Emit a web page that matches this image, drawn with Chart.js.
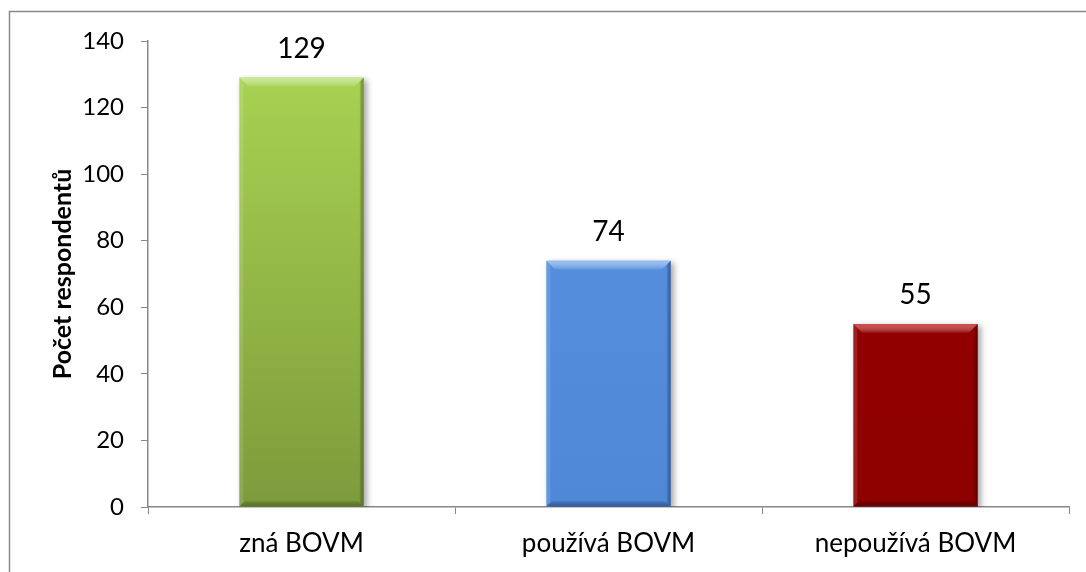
<!DOCTYPE html>
<html>
<head>
<meta charset="utf-8">
<script src="https://cdn.jsdelivr.net/npm/chart.js@4/dist/chart.umd.min.js"></script>
<style>
  html, body { margin: 0; padding: 0; background: #ffffff; }
  #wrap { position: relative; width: 1086px; height: 572px; }
</style>
</head>
<body>
<div id="wrap"><canvas id="c" width="1086" height="572"></canvas></div>
<script>
// Respondent counts per category
const categories = ['zná BOVM', 'používá BOVM', 'nepoužívá BOVM'];
const respondents = [129, 74, 55];
const yTicks = [0, 20, 40, 60, 80, 100, 120, 140];
const axisTitle = 'Počet respondentů';

// Bar palette: top and bottom of the fill, light and dark bevel tones
const barTop = ['#abd653', '#5892e0', '#980000'];
const barBottom = ['#7d9b3b', '#4f88d6', '#8e0000'];
const bevelLight = ['rgba(215,240,170,0.75)', 'rgba(170,205,250,0.8)', 'rgba(225,90,90,0.8)'];
const bevelDark = ['rgba(70,90,30,0.55)', 'rgba(30,60,120,0.55)', 'rgba(70,0,0,0.55)'];

const FONT = 'Lato, "Open Sans", sans-serif';
const AXIS_GREY = '#878787';

// Outer frame line (top and left edges)
const framePlugin = {
  id: 'frame',
  beforeDraw(chart) {
    const ctx = chart.ctx;
    ctx.save();
    ctx.strokeStyle = '#8a8a8a';
    ctx.lineWidth = 1.5;
    ctx.beginPath();
    ctx.moveTo(9.5, 600);
    ctx.lineTo(9.5, 11.5);
    ctx.lineTo(1100, 11.5);
    ctx.stroke();
    ctx.restore();
  }
};

// Soft drop shadow under the bars
const shadowPlugin = {
  id: 'barShadow',
  beforeDatasetsDraw(chart) {
    const ctx = chart.ctx;
    ctx.save();
    ctx.shadowColor = 'rgba(0,0,0,0.35)';
    ctx.shadowBlur = 6;
    ctx.shadowOffsetX = 3;
    ctx.shadowOffsetY = 2;
  },
  afterDatasetsDraw(chart) {
    chart.ctx.restore();
  }
};

// Bevel edges on each bar plus the value above it
const bevelPlugin = {
  id: 'bevel',
  afterDatasetsDraw(chart) {
    const ctx = chart.ctx;
    const meta = chart.getDatasetMeta(0);
    meta.data.forEach((bar, i) => {
      const p = bar.getProps(['x', 'y', 'base', 'width'], true);
      const l = p.x - p.width / 2, r = p.x + p.width / 2;
      const t = p.y, b = p.base;
      const d = 9, s = 4;
      ctx.save();
      // top bevel
      const gTop = ctx.createLinearGradient(0, t, 0, t + d);
      gTop.addColorStop(0, bevelLight[i]);
      gTop.addColorStop(1, 'rgba(255,255,255,0.05)');
      ctx.fillStyle = gTop;
      ctx.beginPath();
      ctx.moveTo(l, t); ctx.lineTo(r, t); ctx.lineTo(r - d, t + d); ctx.lineTo(l + d, t + d);
      ctx.closePath(); ctx.fill();
      // left edge
      ctx.fillStyle = 'rgba(255,255,255,0.12)';
      ctx.beginPath();
      ctx.moveTo(l, t); ctx.lineTo(l + s, t + s); ctx.lineTo(l + s, b - s); ctx.lineTo(l, b);
      ctx.closePath(); ctx.fill();
      // right edge
      const gR = ctx.createLinearGradient(r - s, 0, r, 0);
      gR.addColorStop(0, 'rgba(0,0,0,0.05)');
      gR.addColorStop(1, bevelDark[i]);
      ctx.fillStyle = gR;
      ctx.beginPath();
      ctx.moveTo(r, t); ctx.lineTo(r, b); ctx.lineTo(r - s, b - s); ctx.lineTo(r - s, t + s);
      ctx.closePath(); ctx.fill();
      // bottom edge
      const gB = ctx.createLinearGradient(0, b - 6, 0, b);
      gB.addColorStop(0, 'rgba(0,0,0,0.02)');
      gB.addColorStop(1, bevelDark[i]);
      ctx.fillStyle = gB;
      ctx.beginPath();
      ctx.moveTo(l, b); ctx.lineTo(r, b); ctx.lineTo(r - 6, b - 6); ctx.lineTo(l + 6, b - 6);
      ctx.closePath(); ctx.fill();
      ctx.restore();

      // value label
      ctx.save();
      ctx.fillStyle = '#000000';
      ctx.font = '28px ' + FONT;
      ctx.textAlign = 'center';
      ctx.textBaseline = 'alphabetic';
      ctx.fillText(String(respondents[i]), p.x, t - 20);
      ctx.restore();
    });
  }
};

new Chart(document.getElementById('c'), {
  type: 'bar',
  data: {
    labels: categories,
    datasets: [{
      data: respondents,
      backgroundColor(ctx) {
        const chart = ctx.chart;
        const area = chart.chartArea;
        if (!area) return barTop[ctx.dataIndex];
        const el = ctx.element;
        const y0 = el && isFinite(el.y) ? el.y : area.top;
        const y1 = el && isFinite(el.base) ? el.base : area.bottom;
        const g = chart.ctx.createLinearGradient(0, y0, 0, y1);
        g.addColorStop(0, barTop[ctx.dataIndex]);
        g.addColorStop(1, barBottom[ctx.dataIndex]);
        return g;
      },
      borderWidth: 0,
      barPercentage: 0.405,
      categoryPercentage: 1.0
    }]
  },
  options: {
    responsive: false,
    animation: false,
    layout: { padding: { top: 41, right: 17, bottom: 0, left: 0 } },
    plugins: {
      legend: { display: false },
      tooltip: { enabled: false }
    },
    scales: {
      x: {
        grid: {
          display: true,
          drawOnChartArea: false,
          drawTicks: true,
          tickLength: 7,
          color: AXIS_GREY,
          offset: true
        },
        border: { display: true, color: AXIS_GREY, width: 1.5 },
        ticks: {
          color: '#000000',
          font: { family: FONT, size: 26 },
          padding: 14
        },
        afterFit(scale) { scale.height = 65; }
      },
      y: {
        min: 0,
        max: 140,
        afterBuildTicks(scale) { scale.ticks = yTicks.map(v => ({ value: v })); },
        grid: {
          display: true,
          drawOnChartArea: false,
          drawTicks: true,
          tickLength: 7,
          color: AXIS_GREY
        },
        border: { display: true, color: AXIS_GREY, width: 1.5 },
        ticks: {
          color: '#000000',
          font: { family: FONT, size: 24 },
          padding: 17
        },
        title: {
          display: true,
          text: axisTitle,
          color: '#000000',
          font: { family: FONT, size: 25, weight: 'bold' },
          padding: { top: 48, bottom: 0 }
        },
        afterFit(scale) { scale.width = 148; }
      }
    }
  },
  plugins: [framePlugin, shadowPlugin, bevelPlugin]
});
</script>
</body>
</html>
